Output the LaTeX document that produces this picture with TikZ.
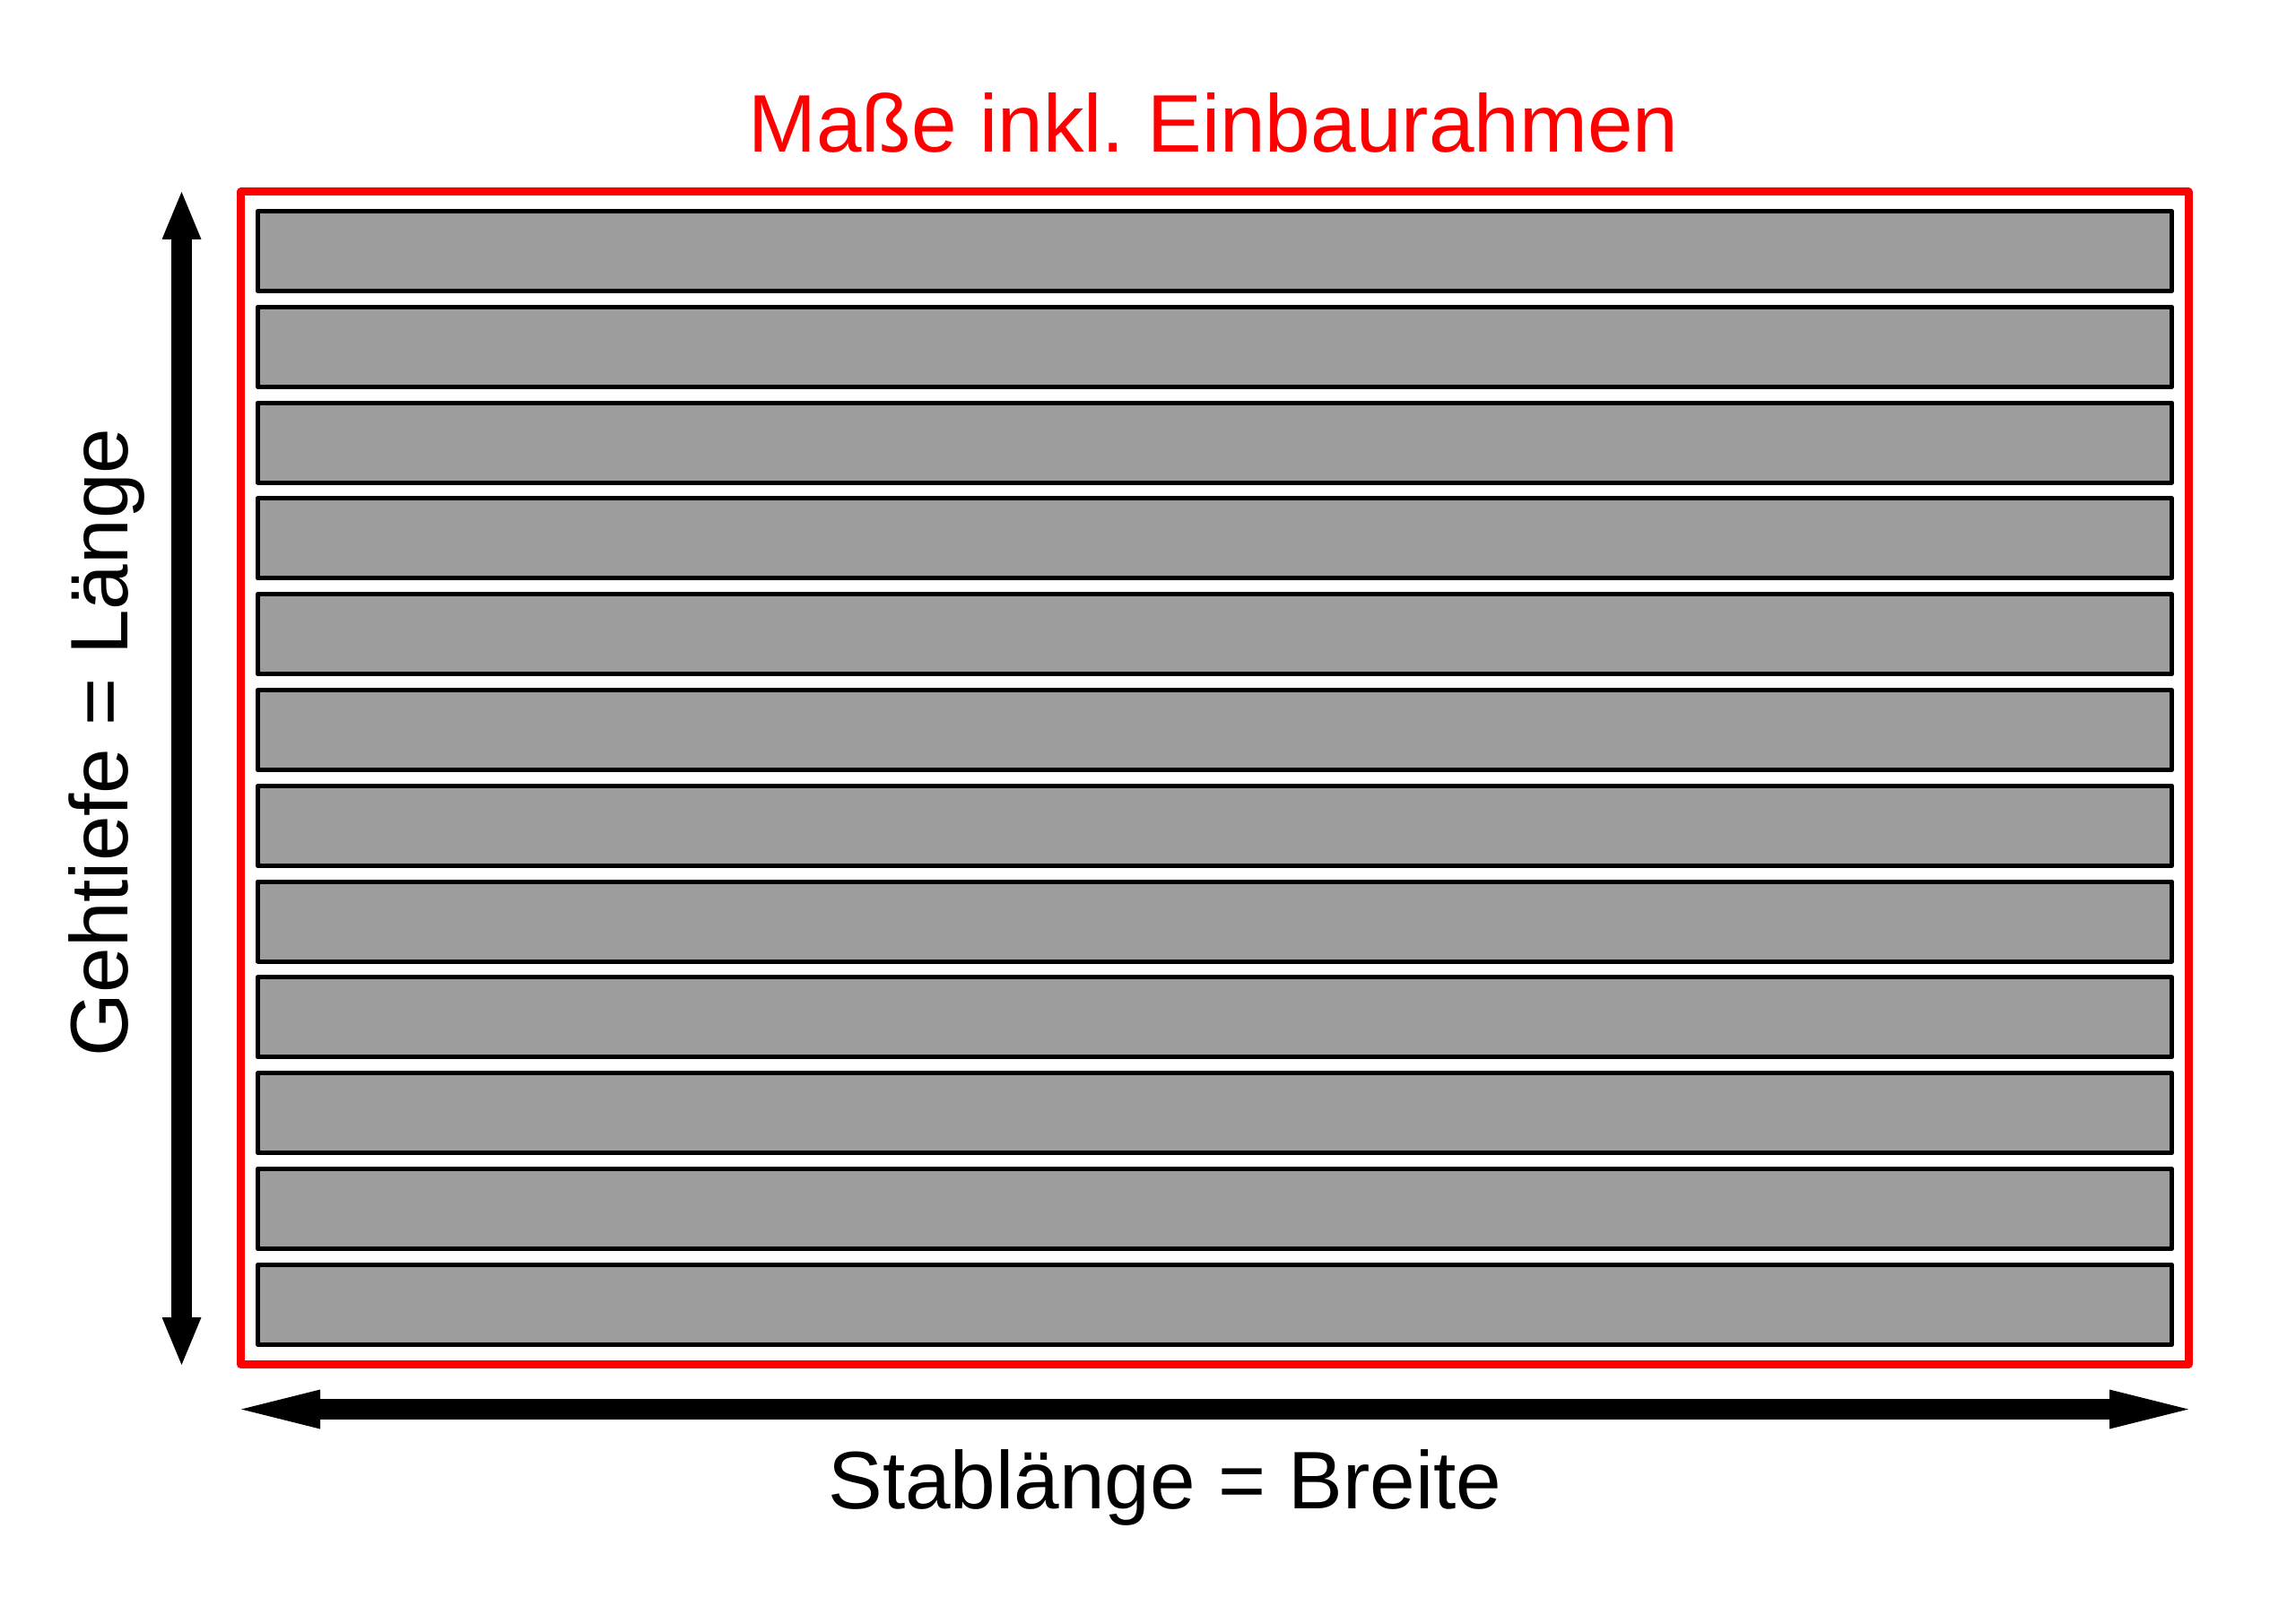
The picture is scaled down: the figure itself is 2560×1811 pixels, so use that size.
\documentclass[tikz,border=0pt]{standalone}
\usepackage{fontspec}
\setmainfont{Liberation Sans}
\usetikzlibrary{arrows.meta}
\definecolor{slatgray}{RGB}{157,157,157}
\begin{document}
\begin{tikzpicture}[x=1pt,y=-1pt,
    slat/.style={draw=black,line width=5pt,fill=slatgray,inner sep=0pt,
      minimum width=2134pt,minimum height=89pt,line join=round},
    rahmen/.style={draw=red,line width=9pt,line join=round},
    vdim/.style={line width=23pt,
      {Triangle[length=53pt,width=44pt,line width=0pt]}-{Triangle[length=53pt,width=44pt,line width=0pt]}},
    hdim/.style={line width=23pt,
      {Triangle[length=88pt,width=44pt,line width=0pt]}-{Triangle[length=88pt,width=44pt,line width=0pt]}},
    dimtext/.style={font=\fontsize{91}{100}\selectfont,inner sep=0pt,anchor=base}]
  \useasboundingbox (0,0) rectangle (2560,1811);
  \coordinate (tl) at (268.5,214);
  \coordinate (br) at (2440,1521.5);
  \draw[rahmen] (tl) rectangle (br);
  \foreach \i in {0,...,11}
    \node[slat] (s\i) at (1354.5,{280+\i*106.8}) {};
  \coordinate (vtop) at (202.5,214);
  \coordinate (vbot) at (202.5,1522);
  \draw[vdim] (vtop) -- (vbot);
  \coordinate (hleft) at (269,1571.5);
  \coordinate (hright) at (2440,1571.5);
  \draw[hdim] (hleft) -- (hright);
  \node[dimtext,text=red] (title) at (1353,170) {Maße inkl.\ Einbaurahmen};
  \node[dimtext] (breite) at (1299,1682) {Stablänge = Breite};
  \node[dimtext,rotate=90] (laenge) at (142,828) {Gehtiefe = Länge};
\end{tikzpicture}
\end{document}
